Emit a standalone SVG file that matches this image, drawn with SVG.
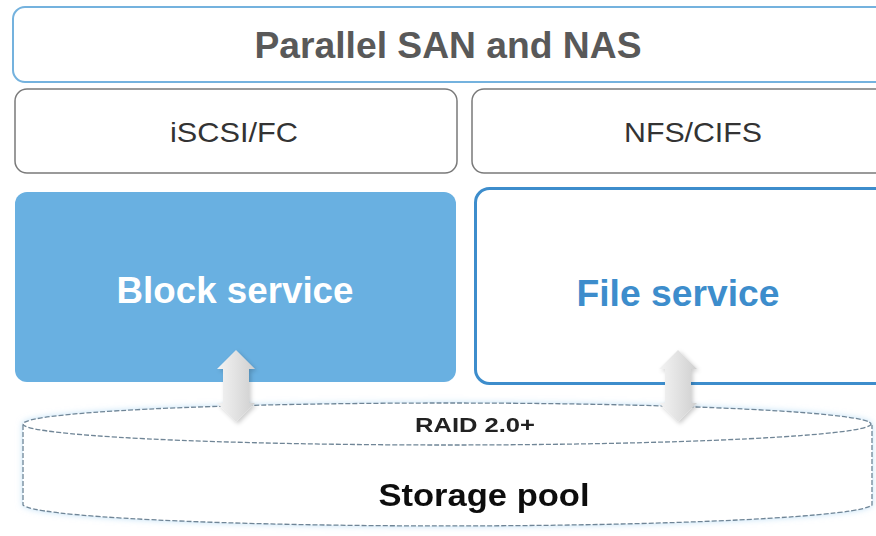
<svg xmlns="http://www.w3.org/2000/svg" width="876" height="536" viewBox="0 0 876 536">
<defs>
<style>
.t{font-family:"Liberation Sans",Arial,sans-serif;text-anchor:middle}
.dash{stroke:#6f8596;stroke-width:1.3;stroke-dasharray:5 2}
</style>
<linearGradient id="ag" x1="0" y1="0" x2="1" y2="0">
<stop offset="0" stop-color="#f4f4f4"/><stop offset="0.5" stop-color="#e2e2e2"/><stop offset="1" stop-color="#cfcfcf"/>
</linearGradient>
<filter id="sh" x="-50%" y="-20%" width="200%" height="140%"><feDropShadow dx="2" dy="2" stdDeviation="2" flood-color="#000" flood-opacity="0.2"/></filter>
<filter id="glow" x="-5%" y="-20%" width="110%" height="140%"><feDropShadow dx="0" dy="0" stdDeviation="3" flood-color="#a9d3f2" flood-opacity="0.7"/></filter>
</defs>
<rect width="876" height="536" fill="#ffffff"/>
<g id="top">
<rect x="13" y="7" width="880" height="75" rx="12" fill="#fff" stroke="#74b2de" stroke-width="2"/>
<text class="t" x="448" y="58" font-size="36" font-weight="bold" fill="#595959" textLength="387" lengthAdjust="spacingAndGlyphs">Parallel SAN and NAS</text>
</g>
<g id="iscsi">
<rect x="15" y="89" width="442" height="84" rx="12" fill="#fff" stroke="#7a7a7a" stroke-width="1.5"/>
<text class="t" x="234" y="142" font-size="28" fill="#333" textLength="128" lengthAdjust="spacingAndGlyphs">iSCSI/FC</text>
</g>
<g id="nfs">
<rect x="472" y="89" width="420" height="84" rx="12" fill="#fff" stroke="#7a7a7a" stroke-width="1.5"/>
<text class="t" x="693" y="142" font-size="28" fill="#333" textLength="138" lengthAdjust="spacingAndGlyphs">NFS/CIFS</text>
</g>
<g id="pool" filter="url(#glow)">
<path d="M23,425 L23,505 A425,22 0 0 0 872,505 L872,425" fill="#fff" class="dash"/>
<ellipse cx="447" cy="424" rx="424" ry="21" fill="#fff" class="dash"/>
<text class="t" x="475" y="432" font-size="21" font-weight="bold" fill="#222" textLength="120" lengthAdjust="spacingAndGlyphs">RAID 2.0+</text>
<text class="t" x="484" y="506" font-size="32" font-weight="bold" fill="#111" textLength="211" lengthAdjust="spacingAndGlyphs">Storage pool</text>
</g>
<g id="block">
<rect x="15" y="192" width="441" height="190" rx="12" fill="#69b0e1"/>
<text class="t" x="235" y="303" font-size="36" font-weight="bold" fill="#fff" textLength="237" lengthAdjust="spacingAndGlyphs">Block service</text>
</g>
<g id="file">
<rect x="475.5" y="188.5" width="420" height="195" rx="14" fill="#fff" stroke="#3d8dcc" stroke-width="3"/>
<text class="t" x="678" y="306" font-size="36" font-weight="bold" fill="#3d8dcc" textLength="203" lengthAdjust="spacingAndGlyphs">File service</text>
</g>
<g id="connectors" fill="url(#ag)" filter="url(#sh)">
<path d="M236,350 L255,369 L249,369 L249,403 L255,403 L236,422 L217,403 L223,403 L223,369 L217,369 Z"/>
<path d="M678,350 L697,369 L691,369 L691,403 L697,403 L678,422 L659,403 L665,403 L665,369 L659,369 Z"/>
</g>
</svg>
